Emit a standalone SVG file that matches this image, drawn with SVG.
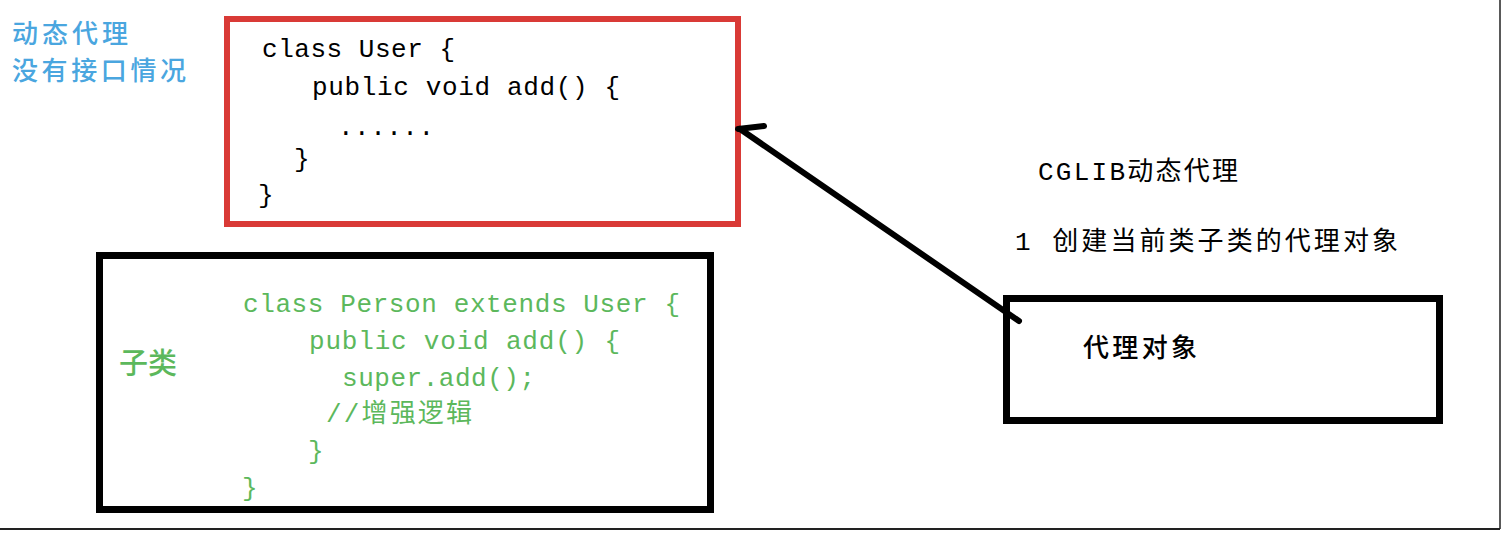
<svg xmlns="http://www.w3.org/2000/svg" width="1504" height="558" viewBox="0 0 1504 558">
<style>
.code{font-family:"Liberation Mono","Noto Sans CJK SC",monospace;font-size:26px}
.cjk{font-family:"Noto Sans CJK SC",sans-serif;font-size:26px;font-weight:500}
.mix{font-family:"Liberation Mono","Noto Sans CJK SC",monospace;font-size:26px}
.blk{fill:#000}
.grn{fill:#5cb85c}
.blu{fill:#4aa6df}
.box{fill:none;stroke:#000;stroke-width:7}
</style>
<rect width="1504" height="558" fill="#fff"/>
<g id="frame">
<line x1="1500" y1="0" x2="1500" y2="529" stroke="#222" stroke-width="1.5"/>
<line x1="0" y1="529" x2="1500" y2="529" stroke="#222" stroke-width="2"/>
</g>
<g id="title">
<text class="cjk blu" x="12" y="43" textLength="116">动态代理</text>
<text class="cjk blu" x="12" y="80" textLength="174">没有接口情况</text>
</g>
<g id="user-class">
<rect x="227" y="19" width="511" height="205" fill="none" stroke="#d93a36" stroke-width="6"/>
<text class="code blk" x="262" y="57" textLength="193">class User {</text>
<text class="code blk" x="312" y="95" textLength="308">public void add() {</text>
<text class="code blk" x="338" y="135" textLength="96">......</text>
<text class="code blk" x="294" y="167">}</text>
<text class="code blk" x="258" y="203">}</text>
</g>
<g id="person-class">
<rect x="99.5" y="255.5" width="611" height="254" class="box"/>
<text class="cjk grn" x="119" y="374" style="font-size:29px">子类</text>
<text class="code grn" x="243" y="312" textLength="437">class Person extends User {</text>
<text class="code grn" x="309" y="349" textLength="311">public void add() {</text>
<text class="code grn" x="342" y="386" textLength="193">super.add();</text>
<text class="mix grn" x="326" y="422" textLength="146">//增强逻辑</text>
<text class="code grn" x="308" y="459">}</text>
<text class="code grn" x="242" y="496">}</text>
</g>
<g id="cglib-note">
<text class="mix blk" x="1038" y="180" textLength="200">CGLIB动态代理</text>
<text class="mix blk" x="1015" y="250" textLength="383">1 创建当前类子类的代理对象</text>
</g>
<g id="proxy-object">
<rect x="1006.5" y="298.5" width="433" height="122" class="box"/>
<text class="cjk blk" x="1083" y="357" textLength="114">代理对象</text>
</g>
<g id="connectors" stroke="#000" stroke-width="6" stroke-linecap="round" fill="none">
<line x1="1019" y1="321" x2="740" y2="129"/>
<line x1="738" y1="129" x2="764" y2="126"/>
</g>
</svg>
